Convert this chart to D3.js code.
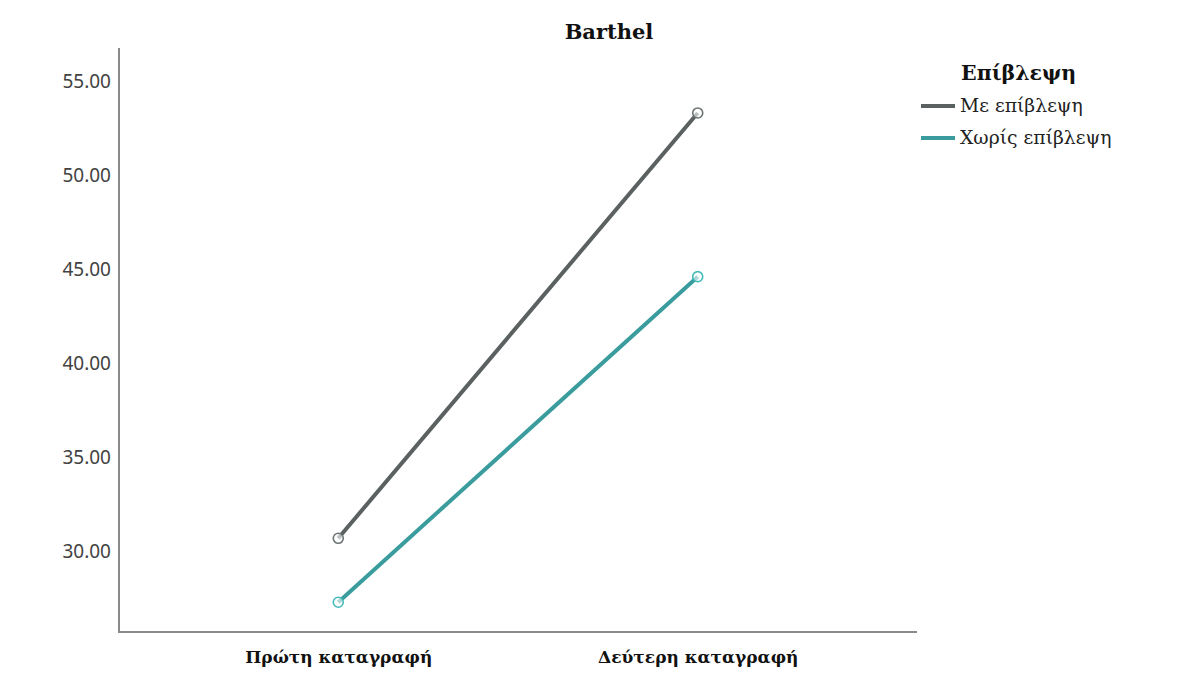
<!DOCTYPE html>
<html><head><meta charset="utf-8">
<script src="https://cdn.jsdelivr.net/npm/d3@7"></script>
<style>body{margin:0;background:#fff}svg{display:block}</style>
</head><body>
<svg id="c" width="1202" height="693"></svg>
<script>
const categories = ["Πρώτη καταγραφή", "Δεύτερη καταγραφή"];
const seriesNames = ["Με επίβλεψη", "Χωρίς επίβλεψη"];
const withSupervision = [30.7, 53.3];
const withoutSupervision = [27.3, 44.6];
const yTicks = [30, 35, 40, 45, 50, 55];
const title = "Barthel";
const legendTitle = "Επίβλεψη";
const colors = ["#5b6161", "#3a9c9c"];

const SERIF = "'DejaVu Serif', serif";
const svg = d3.select("#c");
const L = 119, R = 917, T = 48, B = 632;
const x = d3.scalePoint().domain(categories).range([L, R]).padding(0.61);
const y = d3.scaleLinear().domain([25.72, 56.75]).range([B, T]);

const series = [withSupervision, withoutSupervision];

// axes
const ya = svg.append("g").attr("transform", `translate(${L},0)`)
  .call(d3.axisLeft(y).tickValues(yTicks).tickFormat(d3.format(".2f")).tickSize(0).tickPadding(8));
ya.select(".domain").remove();
ya.selectAll("text").attr("font-family", "'Noto Sans', sans-serif").attr("font-size", 19).attr("fill", "#424242");
const xa = svg.append("g").attr("transform", `translate(0,${B})`)
  .call(d3.axisBottom(x).tickSize(0).tickPadding(19));
xa.select(".domain").remove();
xa.selectAll("text").attr("font-family", SERIF).attr("font-size", 17)
  .attr("font-weight", "bold").attr("fill", "#111");

svg.append("line").attr("x1", L).attr("x2", L).attr("y1", T).attr("y2", B)
  .attr("stroke", "#8a8a8a").attr("stroke-width", 2);
svg.append("line").attr("x1", L - 1).attr("x2", R).attr("y1", B).attr("y2", B)
  .attr("stroke", "#8a8a8a").attr("stroke-width", 2);

// lines
const line = d3.line().x((d, i) => x(categories[i])).y(d => y(d));
series.forEach((s, k) => {
  svg.append("path").datum(s).attr("d", line).attr("fill", "none")
    .attr("stroke", colors[k]).attr("stroke-width", 4);
  svg.selectAll(null).data(s).enter().append("circle")
    .attr("cx", (d, i) => x(categories[i])).attr("cy", d => y(d)).attr("r", 5)
    .attr("fill", "#fff").attr("fill-opacity", 0.6).attr("stroke", d3.color(colors[k]).brighter(0.5)).attr("stroke-width", 1.6);
});

// title
svg.append("text").attr("x", 609).attr("y", 39).attr("text-anchor", "middle")
  .attr("font-family", SERIF).attr("font-weight", "bold").attr("font-size", 21)
  .attr("fill", "#111").text(title);

// legend
svg.append("text").attr("x", 961).attr("y", 80)
  .attr("font-family", SERIF).attr("font-weight", "bold").attr("font-size", 20.5)
  .attr("fill", "#111").text(legendTitle);
seriesNames.forEach((n, k) => {
  const yy = 106 + k * 32;
  svg.append("line").attr("x1", 921).attr("x2", 955).attr("y1", yy).attr("y2", yy)
    .attr("stroke", colors[k]).attr("stroke-width", 4);
  svg.append("text").attr("x", 960).attr("y", yy + 6)
    .attr("font-family", SERIF).attr("font-size", 18.8)
    .attr("fill", "#222").text(n);
});
</script>
</body></html>
